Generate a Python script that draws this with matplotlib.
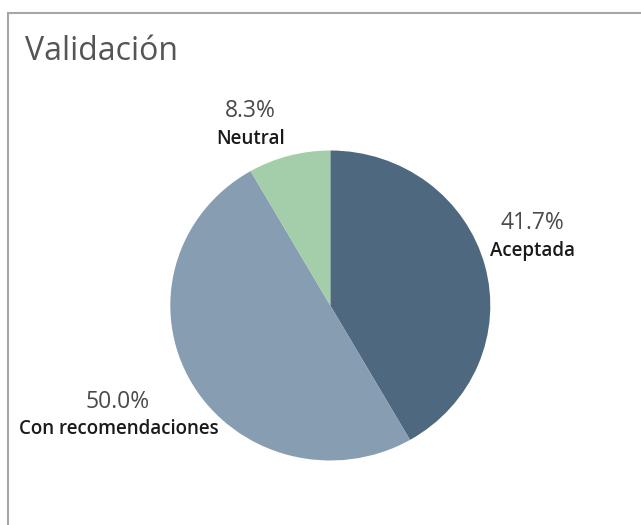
import matplotlib
matplotlib.use("Agg")
import matplotlib.pyplot as plt
from matplotlib.lines import Line2D

categories = ["Aceptada", "Con recomendaciones", "Neutral"]
values = [41.7, 50.0, 8.3]
colors = ["#4e687f", "#879db1", "#a3cea9"]
pct_labels = ["41.7%", "50.0%", "8.3%"]

W, H = 641, 525
fig = plt.figure(figsize=(W / 100, H / 100), dpi=100)

# pie axes (slightly elliptical as in reference)
pax = fig.add_axes([0, 0, 1, 1])
pax.pie(values, colors=colors, startangle=90, counterclock=False,
        radius=1, frame=True, wedgeprops=dict(linewidth=0))
cx, cy = 330.3, H - 305.5
rx, ry = 160.0, 155.0
pax.set_aspect("auto")
pax.set_xlim(-cx / rx, (W - cx) / rx)
pax.set_ylim(-cy / ry, (H - cy) / ry)
pax.axis("off")

# overlay axes in pixel coordinates for frame and text
ax = fig.add_axes([0, 0, 1, 1])
ax.set_xlim(0, W)
ax.set_ylim(0, H)
ax.axis("off")
ax.patch.set_alpha(0)

ax.add_line(Line2D([8, 8], [0, H - 13], color="#a6a6a6", lw=1.5))
ax.add_line(Line2D([8, W], [H - 13, H - 13], color="#a6a6a6", lw=1.5))

ax.text(25, H - 52, "Validación", fontsize=23, color="#555555",
        family="Open Sans", ha="left", va="center")

label_pos = {
    "Aceptada": ((532, H - 223), (532, H - 251)),
    "Con recomendaciones": ((118, H - 402), (119, H - 429)),
    "Neutral": ((250, H - 111), (251, H - 139)),
}
for cat, pct in zip(categories, pct_labels):
    (px, py), (lx, ly) = label_pos[cat]
    ax.text(px, py, pct, fontsize=16.5, color="#4a4a4a", family="Open Sans",
            ha="center", va="center")
    ax.text(lx, ly, cat, fontsize=13.5, color="#1a1a1a", family="Open Sans",
            fontweight="semibold", ha="center", va="center")

fig.savefig("out.png", dpi=100)
